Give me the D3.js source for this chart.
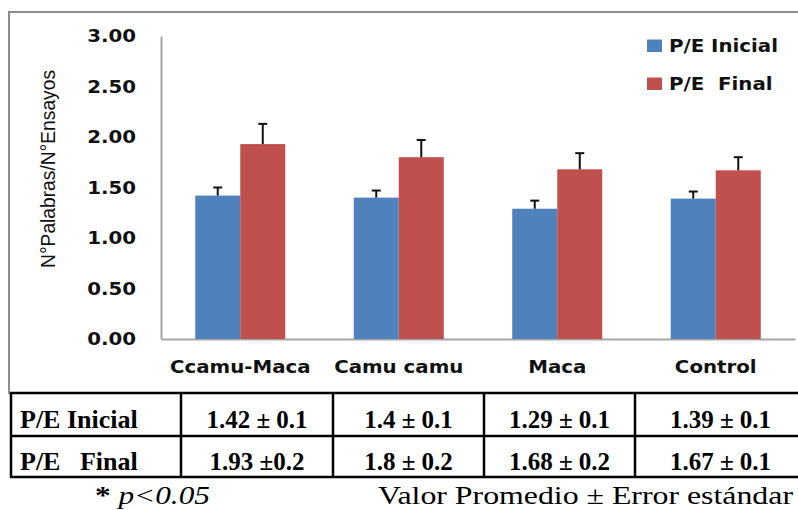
<!DOCTYPE html>
<html><head><meta charset="utf-8">
<script src="https://cdn.jsdelivr.net/npm/d3@7"></script>
<style>body{margin:0;background:#fff}svg{display:block}
.serif{font-family:'Liberation Serif','Times New Roman',serif}</style>
</head><body>
<script>
// ---- data ----
const categories = ["Ccamu-Maca", "Camu camu", "Maca", "Control"];
const seriesNames = ["P/E Inicial", "P/E  Final"];
const valuesInicial = [1.42, 1.40, 1.29, 1.39];
const valuesFinal = [1.93, 1.80, 1.68, 1.67];
const errInicial = [0.08, 0.07, 0.08, 0.07];
const errFinal = [0.20, 0.17, 0.16, 0.13];
const yTicks = [0, 0.5, 1, 1.5, 2, 2.5, 3];
const yTitle = "N°Palabras/N°Ensayos";
const tableRowLabels = ["P/E Inicial", "P/E   Final"];
const tableInicial = ["1.42 ± 0.1", "1.4 ± 0.1", "1.29 ± 0.1", "1.39 ± 0.1"];
const tableFinal = ["1.93 ±0.2", "1.8 ± 0.2", "1.68 ± 0.2", "1.67 ± 0.1"];
const footStar = "*";
const footP = " p<0.05";
const footRight = "Valor Promedio ± Error estándar";

const colors = ["#4F81BD", "#C0504D"];
const W = 798, H = 510;
const svg = d3.select("body").append("svg").attr("width", W).attr("height", H);

// fit a text element horizontally to a target width by scaling around its anchor x
function fitWidth(sel, x, yPos, target) {
  const node = sel.node();
  let w = 0;
  try { w = node.getComputedTextLength(); } catch (e) { w = 0; }
  const s = w > 0 ? target / w : 1;
  sel.attr("x", 0).attr("y", 0).attr("transform", `translate(${x},${yPos}) scale(${s},1)`);
}

// chart frame
svg.append("path").attr("d", "M9,394V12H805").attr("fill", "none")
  .attr("stroke", "#8c8c8c").attr("stroke-width", 2);

const y = d3.scaleLinear().domain([0, 3]).range([339, 36]);
const x0 = d3.scaleBand().domain(categories).range([161, 795]).paddingInner(0.432).paddingOuter(0.216);
const x1 = d3.scaleBand().domain([0, 1]).range([0, x0.bandwidth()]);

const sansFont = "'DejaVu Sans', Verdana, sans-serif";
const SX = 1.1;

// y axis
const gy = svg.append("g").attr("transform", "translate(161,0)")
  .call(d3.axisLeft(y).tickValues(yTicks).tickFormat(d3.format(".2f")).tickSize(0).tickSizeOuter(0).tickPadding(25));
gy.select(".domain").attr("stroke", "#a6a6a6").attr("stroke-width", 2);
gy.selectAll("text").attr("font-family", sansFont).attr("font-weight", "bold").attr("font-size", 18)
  .attr("fill", "#111").attr("x", -25 / SX).attr("transform", `scale(${SX},1)`);

// x axis
const gx = svg.append("g").attr("transform", "translate(0,339)")
  .call(d3.axisBottom(x0).tickSize(0).tickSizeOuter(0));
gx.select(".domain").attr("stroke", "#a6a6a6").attr("stroke-width", 2);
gx.selectAll("text").attr("font-family", sansFont).attr("font-weight", "bold").attr("font-size", 18)
  .attr("fill", "#111").attr("y", 34).attr("dy", 0).attr("transform", `scale(${SX},1)`)
  .attr("x", 0);

// y title (narrow)
const yt = svg.append("g").attr("transform", "translate(55,169) rotate(-90)");
const ytText = yt.append("text").attr("text-anchor", "middle")
  .style("font-family", "'Liberation Sans Narrow', 'Arial Narrow', 'Liberation Sans', Arial, sans-serif")
  .style("font-size", "20px").attr("fill", "#111").text(yTitle);
fitWidth(ytText, 0, 0, 198);

// bars
const data = categories.map((c, i) => ({
  c, vals: [valuesInicial[i], valuesFinal[i]], errs: [errInicial[i], errFinal[i]]
}));
const groups = svg.append("g").selectAll("g").data(data).join("g")
  .attr("transform", d => `translate(${x0(d.c)},0)`);
groups.selectAll("rect").data(d => d.vals.map((v, k) => ({ v, k }))).join("rect")
  .attr("x", d => x1(d.k)).attr("width", x1.bandwidth())
  .attr("y", d => y(d.v)).attr("height", d => y(0) - y(d.v))
  .attr("fill", d => colors[d.k]);
// error bars
const eb = groups.selectAll("g.err").data(d => d.vals.map((v, k) => ({ v, k, e: d.errs[k] }))).join("g").attr("class", "err");
eb.append("line")
  .attr("x1", d => x1(d.k) + x1.bandwidth() / 2).attr("x2", d => x1(d.k) + x1.bandwidth() / 2)
  .attr("y1", d => y(d.v)).attr("y2", d => y(d.v + d.e))
  .attr("stroke", "#111").attr("stroke-width", 2);
eb.append("line")
  .attr("x1", d => x1(d.k) + x1.bandwidth() / 2 - 4.5).attr("x2", d => x1(d.k) + x1.bandwidth() / 2 + 4.5)
  .attr("y1", d => y(d.v + d.e)).attr("y2", d => y(d.v + d.e))
  .attr("stroke", "#111").attr("stroke-width", 2);

// legend
const lg = svg.append("g").selectAll("g").data(seriesNames).join("g")
  .attr("transform", (d, i) => `translate(647,${39.5 + i * 38})`);
lg.append("rect").attr("width", 15).attr("height", 12.5).attr("fill", (d, i) => colors[i]);
lg.append("text").attr("x", 22 / SX).attr("y", 12.5).attr("transform", `scale(${SX},1)`)
  .attr("font-family", sansFont).attr("font-weight", "bold").attr("font-size", 18).attr("fill", "#111")
  .style("white-space", "pre").text(d => d);

// table
const tb = svg.append("g");
const colX = [11, 181, 333, 484, 635, 806];
const rowY = [393, 436, 477];
rowY.forEach(yy => tb.append("line").attr("x1", 10).attr("x2", 806).attr("y1", yy).attr("y2", yy)
  .attr("stroke", "#000").attr("stroke-width", 2.5));
colX.slice(0, 5).forEach(xx => tb.append("line").attr("x1", xx).attr("x2", xx).attr("y1", 393).attr("y2", 477)
  .attr("stroke", "#000").attr("stroke-width", 2.5));
const rowBase = [428, 470];
tableRowLabels.forEach((t, r) => tb.append("text").attr("class", "serif").attr("x", 20).attr("y", rowBase[r])
  .style("font-weight", "bold").style("font-size", "26px").style("white-space", "pre").text(t));
[tableInicial, tableFinal].forEach((arr, r) => arr.forEach((t, c) => {
  tb.append("text").attr("class", "serif").attr("x", (colX[c + 1] + colX[c + 2]) / 2).attr("y", rowBase[r])
    .attr("text-anchor", "middle").style("font-weight", "bold")
    .style("font-size", "25px").text(t);
}));

// footer
const fl = svg.append("text").attr("class", "serif").style("font-size", "25px").style("white-space", "pre");
fl.append("tspan").style("font-weight", "bold").text(footStar);
fl.append("tspan").style("font-style", "italic").text(footP);
fitWidth(fl, 95, 504, 115);
const fr = svg.append("text").attr("class", "serif").style("font-size", "25px").text(footRight);
fitWidth(fr, 378, 504, 415);
</script>
</body></html>
